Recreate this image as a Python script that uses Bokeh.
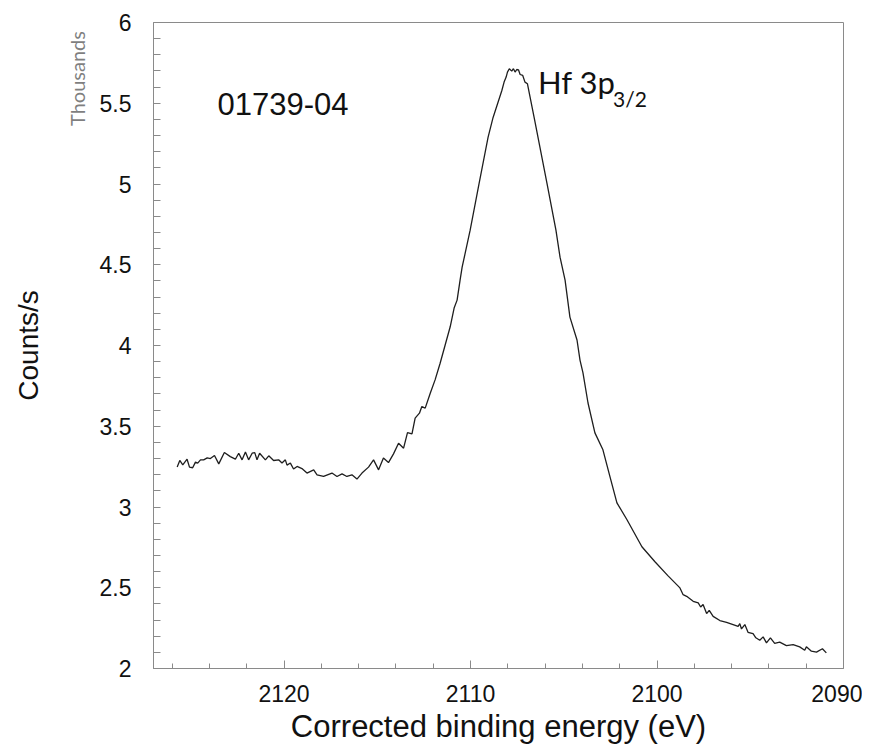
import math
from bokeh.plotting import figure
from bokeh.models import Range1d, FixedTicker, Label, ColumnDataSource, LinearAxis
from bokeh.embed import file_html
from bokeh.resources import INLINE

# ---- data (binding energy in eV, counts/s in thousands) ----
energy = [
    2125.73, 2125.59, 2125.43, 2125.20, 2125.07, 2124.90, 2124.75, 2124.63, 2124.48, 2124.31,
    2124.12, 2123.95, 2123.73, 2123.50, 2123.20, 2122.88, 2122.61, 2122.43, 2122.25, 2122.07,
    2121.90, 2121.71, 2121.57, 2121.45, 2121.31, 2121.00, 2120.82, 2120.56, 2120.29, 2120.11,
    2119.93, 2119.84, 2119.66, 2119.49, 2119.30, 2119.04, 2118.77, 2118.41, 2118.23, 2117.88,
    2117.43, 2117.16, 2116.89, 2116.63, 2116.36, 2116.09, 2115.82, 2115.47, 2115.20, 2114.93,
    2114.67, 2114.40, 2114.13, 2113.86, 2113.59, 2113.38, 2113.14, 2112.97, 2112.74, 2112.61,
    2112.43, 2112.16, 2111.90, 2111.63, 2111.36, 2111.09, 2110.88, 2110.72, 2110.56, 2110.45,
    2110.02, 2109.54, 2109.06, 2108.79,
    2108.32, 2108.20, 2108.09, 2108.02, 2107.92, 2107.79, 2107.70, 2107.61, 2107.52, 2107.43,
    2107.34, 2107.20, 2107.08, 2106.95,
    2106.59, 2105.90, 2105.42, 2105.20, 2104.93, 2104.67, 2104.29, 2104.13, 2103.97, 2103.70,
    2103.33, 2102.90, 2102.52, 2102.15, 2101.61, 2100.81, 2100.11, 2099.42,
    2098.77, 2098.60, 2098.41, 2098.06, 2097.79, 2097.66, 2097.53, 2097.34, 2097.20, 2096.99,
    2096.63, 2096.27, 2095.92, 2095.65, 2095.56, 2095.47, 2095.29, 2095.12, 2094.85, 2094.70,
    2094.49, 2094.31, 2094.13, 2093.92, 2093.69, 2093.42, 2093.06, 2092.70, 2092.35, 2092.08,
    2091.99, 2091.72, 2091.45, 2091.13, 2090.92,
]
counts_k = [
    3.247, 3.288, 3.261, 3.296, 3.247, 3.243, 3.278, 3.272, 3.292, 3.292,
    3.304, 3.300, 3.319, 3.267, 3.337, 3.312, 3.296, 3.333, 3.292, 3.341,
    3.292, 3.333, 3.337, 3.292, 3.333, 3.292, 3.317, 3.288, 3.292, 3.272,
    3.292, 3.259, 3.272, 3.235, 3.251, 3.238, 3.210, 3.230, 3.199, 3.189,
    3.210, 3.189, 3.205, 3.189, 3.199, 3.173, 3.210, 3.247, 3.292, 3.230,
    3.303, 3.275, 3.329, 3.395, 3.364, 3.461, 3.453, 3.550, 3.581, 3.622,
    3.612, 3.704, 3.787, 3.890, 4.003, 4.116, 4.232, 4.281, 4.405, 4.485,
    4.714, 5.004, 5.289, 5.412,
    5.579, 5.631, 5.662, 5.693, 5.714, 5.699, 5.714, 5.693, 5.709, 5.707,
    5.678, 5.672, 5.631, 5.621,
    5.412, 5.004, 4.714, 4.547, 4.405, 4.176, 4.034, 3.910, 3.830, 3.644,
    3.459, 3.354, 3.187, 3.026, 2.921, 2.754, 2.661, 2.575,
    2.499, 2.457, 2.447, 2.416, 2.406, 2.381, 2.396, 2.340, 2.360, 2.323,
    2.297, 2.286, 2.272, 2.261, 2.278, 2.245, 2.272, 2.224, 2.216, 2.190,
    2.175, 2.196, 2.159, 2.190, 2.155, 2.163, 2.142, 2.148, 2.134, 2.113,
    2.134, 2.107, 2.101, 2.122, 2.097,
]

x_ticks = [2120, 2110, 2100, 2090]
x_tick_labels = ["2120", "2110", "2100", "2090"]
x_minor = [2126, 2124, 2122, 2118, 2116, 2114, 2112, 2108, 2106, 2104, 2102,
           2098, 2096, 2094, 2092]
y_ticks = [2, 2.5, 3, 3.5, 4, 4.5, 5, 5.5, 6]
y_tick_labels = ["2", "2.5", "3", "3.5", "4", "4.5", "5", "5.5", "6"]
y_minor = [2.1, 2.2, 2.3, 2.4, 2.6, 2.7, 2.8, 2.9, 3.1, 3.2, 3.3, 3.4, 3.6, 3.7,
           3.8, 3.9, 4.1, 4.2, 4.3, 4.4, 4.6, 4.7, 4.8, 4.9, 5.1, 5.2, 5.3, 5.4,
           5.6, 5.7, 5.8, 5.9]

sample_label = "01739-04"
peak_label = "Hf 3p"
peak_sub = "3/2"
unit_label = "Thousands"
y_title = "Counts/s"
x_title = "Corrected binding energy (eV)"

FONT = "Liberation Sans"
GRAY = "#8a8a8a"

p = figure(width=862, height=746, output_backend="svg", toolbar_location=None,
           x_range=Range1d(2127, 2090), y_range=Range1d(2, 6),
           min_border_left=153, min_border_right=19, min_border_top=22,
           min_border_bottom=77)
p.background_fill_color = "white"
p.border_fill_color = "white"
p.outline_line_color = GRAY
p.outline_line_width = 1
p.xgrid.visible = False
p.ygrid.visible = False

src = ColumnDataSource(dict(x=energy, y=counts_k))
p.line("x", "y", source=src, line_color="#1e1e1e", line_width=1.3)

# x axis
xa = p.xaxis[0]
xa.ticker = FixedTicker(ticks=x_ticks, minor_ticks=x_minor)
xa.major_label_overrides = {t: l for t, l in zip(x_ticks, x_tick_labels)}
xa.axis_line_color = GRAY
xa.major_tick_line_color = GRAY
xa.minor_tick_line_color = GRAY
xa.major_tick_in = 8
xa.major_tick_out = 0
xa.minor_tick_in = 5
xa.minor_tick_out = 0
xa.major_label_text_font = FONT
xa.major_label_text_font_size = "23px"
xa.major_label_text_color = "#111111"
xa.major_label_standoff = 16
xa.axis_label = x_title
xa.axis_label_text_font = FONT
xa.axis_label_text_font_size = "31px"
xa.axis_label_text_font_style = "normal"
xa.axis_label_text_color = "#111111"
xa.axis_label_standoff = 4

# y axis (ticks and tick labels)
ya = p.yaxis[0]
ya.ticker = FixedTicker(ticks=y_ticks, minor_ticks=y_minor)
ya.major_label_overrides = {t: l for t, l in zip(y_ticks, y_tick_labels)}
ya.axis_line_color = GRAY
ya.major_tick_line_color = GRAY
ya.minor_tick_line_color = GRAY
ya.major_tick_in = 7
ya.major_tick_out = 0
ya.minor_tick_in = 7
ya.minor_tick_out = 0
ya.major_label_text_font = FONT
ya.major_label_text_font_size = "23px"
ya.major_label_text_color = "#111111"
ya.major_label_standoff = 22

# "Thousands" in its own side panel (next to the tick labels) so it is not clipped
p.add_layout(Label(x=4, y=590, x_units="screen", y_units="screen",
                   text=unit_label, text_font="Lato",
                   text_font_size="20px", text_color="#7f7f7f", angle=math.pi / 2,
                   text_align="center", text_baseline="middle"), "left")

# outer axis carrying only the "Counts/s" title
ya2 = LinearAxis(ticker=FixedTicker(ticks=[], minor_ticks=[]))
ya2.axis_line_color = None
ya2.major_tick_in = 0
ya2.major_tick_out = 0
ya2.minor_tick_in = 0
ya2.minor_tick_out = 0
ya2.major_label_text_font_size = "0px"
ya2.major_label_standoff = 0
ya2.axis_label = y_title
ya2.axis_label_text_font = FONT
ya2.axis_label_text_font_size = "28px"
ya2.axis_label_text_font_style = "normal"
ya2.axis_label_text_color = "#111111"
ya2.axis_label_standoff = 29
p.add_layout(ya2, "left")

p.add_layout(Label(x=2123.57, y=5.493, text=sample_label, text_font=FONT,
                   text_font_size="31px", text_color="#111111",
                   text_align="left", text_baseline="alphabetic"))
p.add_layout(Label(x=2106.38, y=5.631, text=peak_label, text_font="Lato",
                   text_font_size="31px", text_color="#111111",
                   text_align="left", text_baseline="alphabetic"))
p.add_layout(Label(x=2102.36, y=5.530, text=peak_sub, text_font="Lato",
                   text_font_size="21px", text_color="#111111",
                   text_align="left", text_baseline="alphabetic"))

open("out.html", "w").write(file_html(p, INLINE))
